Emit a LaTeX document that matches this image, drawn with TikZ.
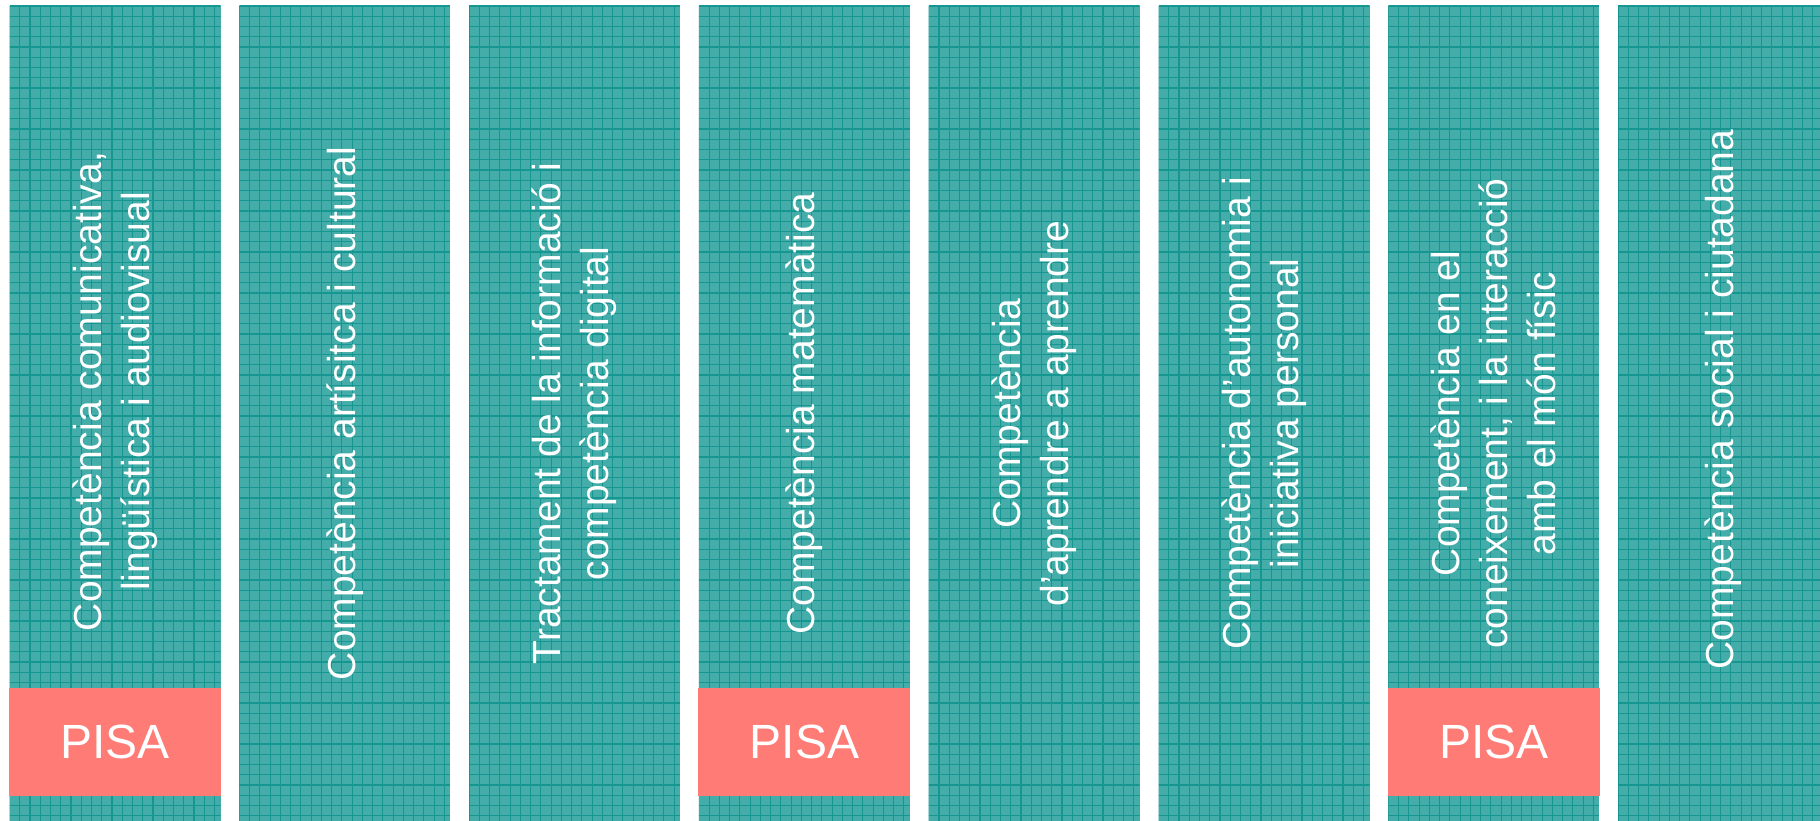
\documentclass[tikz,border=0pt]{standalone}
\usepackage{fontspec}
\setmainfont{Liberation Sans}
\usetikzlibrary{positioning}
\definecolor{tealfill}{RGB}{69,173,169}
\definecolor{tealline}{RGB}{22,150,145}
\definecolor{pisared}{RGB}{255,124,118}
\begin{document}
\begin{tikzpicture}[x=1pt,y=-1pt]
    \tikzstyle{gridline}=[tealline,line width=1.1pt];
    \tikzstyle{compcol}=[rectangle,fill=tealfill,inner sep=0pt,minimum width=211pt,minimum height=815pt,
        path picture={
            \foreach \g in {0,...,20}
                \draw[gridline] ([xshift=\g*10.25pt]path picture bounding box.north west) -- ([xshift=\g*10.25pt]path picture bounding box.south west);
            \foreach \g in {0,...,79}
                \draw[gridline] ([yshift=-\g*10.25pt]path picture bounding box.north west) -- ([yshift=-\g*10.25pt]path picture bounding box.north east);
        }];
    \tikzstyle{comptext}=[rotate=90,align=center,text=white,font=\fontsize{39}{48}\selectfont];
    \tikzstyle{pisa}=[rectangle,fill=pisared,minimum width=212pt,minimum height=108pt,text=white,font=\fontsize{48}{56}\selectfont];

    \useasboundingbox[fill=white] (0,0) rectangle (1820,821);

    \node[compcol] (c1) at (115,413.5) {};
    \node[compcol,right=18.4pt of c1] (c2) {};
    \node[compcol,right=18.4pt of c2] (c3) {};
    \node[compcol,right=18.4pt of c3] (c4) {};
    \node[compcol,right=18.4pt of c4] (c5) {};
    \node[compcol,right=18.4pt of c5] (c6) {};
    \node[compcol,right=18.4pt of c6] (c7) {};
    \node[compcol,right=18.4pt of c7] (c8) {};

    \node[comptext] (t1) at ([yshift=22pt]c1.center) {Competència comunicativa,\\lingüística i audiovisual};
    \node[comptext] (t2) at (c2.center) {Competència artísitca i cultural};
    \node[comptext] (t3) at (c3.center) {Tractament de la informació i\\competència digital};
    \node[comptext] (t4) at (c4.center) {Competència matemàtica};
    \node[comptext] (t5) at (c5.center) {Competència\\d’aprendre a aprendre};
    \node[comptext] (t6) at (c6.center) {Competència d’autonomia i\\iniciativa personal};
    \node[comptext] (t7) at (c7.center) {Competència en el\\coneixement, i la interacció\\amb el món físic};
    \node[comptext] (t8) at ([yshift=14pt]c8.center) {Competència social i ciutadana};

    \node[pisa,above=25pt of c1.south] (p1) {PISA};
    \node[pisa,above=25pt of c4.south] (p4) {PISA};
    \node[pisa,above=25pt of c7.south] (p7) {PISA};
\end{tikzpicture}
\end{document}
